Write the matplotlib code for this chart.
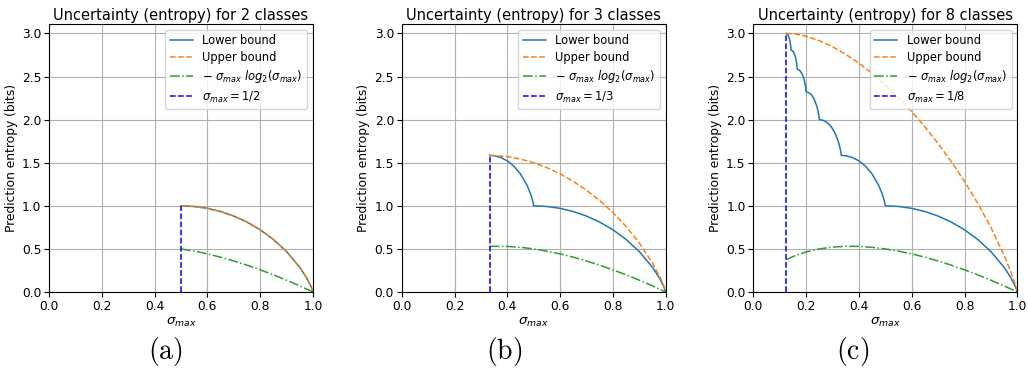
import matplotlib
matplotlib.use("Agg")
import matplotlib.pyplot as plt

plt.rcParams['font.size'] = 8.8
plt.rcParams['xtick.major.pad'] = 2
plt.rcParams['ytick.major.pad'] = 2
plt.rcParams['mathtext.fontset'] = 'dejavusans'

# ---- 2 classes ----
x_two = [0.5, 0.55, 0.6, 0.65, 0.7, 0.75, 0.8, 0.85, 0.9, 0.95, 0.975, 0.99, 0.995, 1.0]
lower_two = [1.0, 0.992774, 0.970950, 0.934068, 0.881291, 0.811278, 0.721928,
             0.609840, 0.468996, 0.286397, 0.168661, 0.080794, 0.045415, 0.0]
upper_two = [1.0, 0.992774, 0.970950, 0.934068, 0.881291, 0.811278, 0.721928,
             0.609840, 0.468996, 0.286397, 0.168661, 0.080794, 0.045415, 0.0]
slog_two = [0.5, 0.474373, 0.442179, 0.403967, 0.360201, 0.311278, 0.257542,
            0.199295, 0.136803, 0.070301, 0.035613, 0.014355, 0.007195, 0.0]

# ---- 3 classes ----
x_three_low = [1/3, 0.35, 0.375, 0.4, 0.425, 0.45, 0.475, 0.4875, 0.49, 0.495, 0.4975, 0.5,
               0.55, 0.6, 0.65, 0.7, 0.75, 0.8, 0.85, 0.9, 0.95, 0.975, 0.99, 0.995, 1.0]
lower_three = [1.584963, 1.581292, 1.561278, 1.521928, 1.459843, 1.368995, 1.236397,
               1.143661, 1.121440, 1.070794, 1.040415, 1.0,
               0.992774, 0.970950, 0.934068, 0.881291, 0.811278, 0.721928,
               0.609840, 0.468996, 0.286397, 0.168661, 0.080794, 0.045415, 0.0]
x_three = [1/3, 0.35, 0.4, 0.45, 0.5, 0.55, 0.6, 0.65, 0.7, 0.75, 0.8, 0.85, 0.9,
           0.95, 0.975, 0.99, 0.995, 1.0]
upper_three = [1.584963, 1.584068, 1.570950, 1.542774, 1.5, 1.442774, 1.370950, 1.284068,
               1.181291, 1.061278, 0.921928, 0.759840, 0.568996, 0.336397, 0.193661,
               0.090794, 0.050415, 0.0]
slog_three = [0.528321, 0.530101, 0.528771, 0.518401, 0.5, 0.474373, 0.442179, 0.403967,
              0.360201, 0.311278, 0.257542, 0.199295, 0.136803, 0.070301, 0.035613,
              0.014355, 0.007195, 0.0]

# ---- 8 classes ----
x_eight_low = [0.125, 0.13, 0.135, 0.14, 0.142, 1/7,
               0.15, 0.155, 0.16, 0.164, 1/6,
               0.175, 0.185, 0.19, 0.195, 0.198, 0.2,
               0.21, 0.22, 0.23, 0.24, 0.245, 0.248, 0.25,
               0.26, 0.275, 0.29, 0.3, 0.31, 0.32, 0.325, 0.33, 1/3,
               0.35, 0.375, 0.4, 0.425, 0.45, 0.475, 0.4875, 0.49, 0.495, 0.4975, 0.5,
               0.55, 0.6, 0.65, 0.7, 0.75, 0.8, 0.85, 0.9, 0.95, 0.975, 0.99, 0.995, 1.0]
lower_eight = [3.0, 2.991162, 2.960220, 2.892647, 2.843425, 2.807355,
               2.795463, 2.769939, 2.723856, 2.661953, 2.584963,
               2.575250, 2.532097, 2.492229, 2.432541, 2.379503, 2.321928,
               2.314309, 2.289362, 2.242178, 2.162292, 2.101440, 2.051221, 2.0,
               1.996438, 1.976609, 1.936355, 1.895463, 1.839939, 1.763856, 1.713999,
               1.649905, 1.584963,
               1.581292, 1.561278, 1.521928, 1.459843, 1.368995, 1.236397, 1.143661,
               1.121440, 1.070794, 1.040415, 1.0,
               0.992774, 0.970950, 0.934068, 0.881291, 0.811278, 0.721928,
               0.609840, 0.468996, 0.286397, 0.168661, 0.080794, 0.045415, 0.0]
x_eight = [0.125, 0.15, 0.175, 0.2, 0.25, 0.3, 0.35, 0.4, 0.45, 0.5, 0.55, 0.6, 0.65, 0.7,
           0.75, 0.8, 0.85, 0.9, 0.95, 0.975, 0.99, 0.995, 1.0]
upper_eight = [3.0, 2.996092, 2.985084, 2.967812, 2.916794, 2.846440, 2.758849, 2.655363,
               2.536819, 2.403678, 2.256084, 2.093892, 1.916642, 1.723498, 1.513117,
               1.283399, 1.030943, 0.749732, 0.426765, 0.238845, 0.108868, 0.059452, 0.0]
slog_eight = [0.375, 0.410545, 0.440050, 0.464386, 0.5, 0.521090, 0.530101, 0.528771,
              0.518401, 0.5, 0.474373, 0.442179, 0.403967, 0.360201, 0.311278, 0.257542,
              0.199295, 0.136803, 0.070301, 0.035613, 0.014355, 0.007195, 0.0]

n_classes = [2, 3, 8]
sigma_min = [1/2, 1/3, 1/8]
max_entropy = [1.0, 1.584963, 3.0]
panel_tags = ['(a)', '(b)', '(c)']

panels = [
    (x_two, lower_two, x_two, upper_two, x_two, slog_two),
    (x_three_low, lower_three, x_three, upper_three, x_three, slog_three),
    (x_eight_low, lower_eight, x_eight, upper_eight, x_eight, slog_eight),
]

W, H = 1028, 372
fig = plt.figure(figsize=(W / 100, H / 100), dpi=100)
lefts = [49, 401.7, 753.3]
caption_x = [165, 504, 853]

for i in range(3):
    ax = fig.add_axes([lefts[i] / W, (H - 292) / H, 264 / W, 268 / H])
    xl, lo, xu, up, xs, sl = panels[i]
    ax.plot(xl, lo, color='tab:blue', lw=1.1, label='Lower bound')
    ax.plot(xu, up, color='tab:orange', ls='--', lw=1.1, label='Upper bound')
    ax.plot(xs, sl, color='tab:green', ls='-.', lw=1.1,
            label=r'$-\ \sigma_{max}\ log_2(\sigma_{max})$')
    ax.plot([sigma_min[i], sigma_min[i]], [0, max_entropy[i]], 'b--', lw=1.1,
            label=r'$\sigma_{max} = 1/%d$' % n_classes[i])
    ax.set_xlim(0, 1)
    ax.set_ylim(0, 3.11)
    ax.grid(True)
    ax.set_title('Uncertainty (entropy) for %d classes' % n_classes[i], pad=3)
    ax.set_xlabel(r'$\sigma_{max}$', fontsize=9.5, labelpad=2)
    ax.set_ylabel('Prediction entropy (bits)', labelpad=3)
    ax.legend(loc='upper right', fontsize=8.3, labelspacing=0.35)
    fig.text(caption_x[i] / W, 1 - 351 / H, r'$\mathrm{' + panel_tags[i] + '}$',
             ha='center', va='center', fontsize=20, math_fontfamily='cm')

fig.savefig('out.png', dpi=100)
